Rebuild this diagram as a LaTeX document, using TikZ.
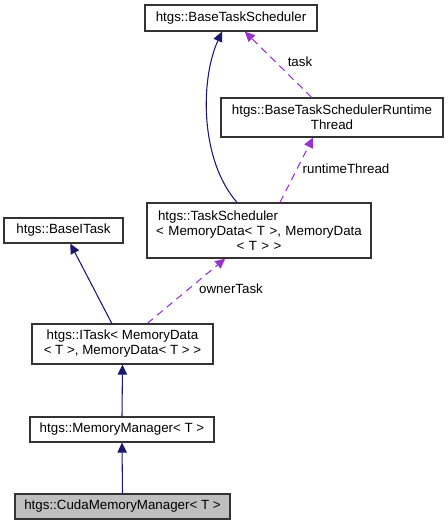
\documentclass[tikz,border=0pt]{standalone}
\usepackage{fontspec}
\setmainfont{Liberation Sans}
\usetikzlibrary{arrows.meta}
\newdimen\dpx \dpx=0.75pt
\definecolor{edgeblue}{HTML}{191970}
\definecolor{edgepurple}{HTML}{9A32CD}
\definecolor{boxline}{HTML}{333333}
\begin{document}
\begin{tikzpicture}[x=0.75pt,y=-0.75pt,
  box/.style={draw=boxline,line width=0.9pt,fill=white,inner sep=0pt,align=center,
    font=\fontsize{10}{11.25}\selectfont},
  inh/.style={draw=edgeblue,line width=0.8pt,-{Triangle[length=7.5pt,width=7pt]}},
  use/.style={draw=edgepurple,line width=0.8pt,dash pattern=on 5.5pt off 4pt,-{Triangle[length=7.5pt,width=7pt]}},
  lbl/.style={font=\fontsize{10}{11.25}\selectfont,inner sep=0pt}]
\useasboundingbox (0,0) rectangle (448,525);
\node[box,minimum width=172\dpx,minimum height=26\dpx] (bts) at (231,18) {htgs::BaseTaskScheduler};
\node[box,minimum width=222\dpx,minimum height=39\dpx] (rt) at (332,117.5) {htgs::BaseTaskSchedulerRuntime\\Thread};
\node[box,minimum width=224\dpx,minimum height=55\dpx,text width=218\dpx] (ts) at (259,230.5)
  {\makebox[\linewidth][l]{\hspace*{8\dpx}htgs::TaskScheduler}\\< MemoryData< T >, MemoryData\\< T > >};
\node[box,minimum width=119\dpx,minimum height=25\dpx] (bit) at (63.5,230.5) {htgs::BaseITask};
\node[box,minimum width=181\dpx,minimum height=40\dpx] (itask) at (122.5,344) {htgs::ITask< MemoryData\\< T >, MemoryData< T > >};
\node[box,minimum width=184\dpx,minimum height=25\dpx] (mm) at (122,429.5) {htgs::MemoryManager< T >};
\node[box,minimum width=215\dpx,minimum height=25\dpx,fill={rgb,255:red,191;green,191;blue,191}] (cmm) at (122.5,506.5) {htgs::CudaMemoryManager< T >};

\draw[inh] (cmm.north) -- (mm.south);
\draw[inh] (mm.north) -- (itask.south);
\draw[inh] (itask) -- (bit);
\draw[use] (itask) -- (ts);
\draw[use] ([xshift=21\dpx]ts.north) -- ([xshift=-19\dpx]rt.south);
\draw[use] (rt) -- (bts);
\draw[inh] ([xshift=-22\dpx]ts.north) .. controls (200,160) and (200,80) .. ([xshift=-9\dpx]bts.south);

\node[lbl] (ltask) at (300,62) {task};
\node[lbl] (lrt) at (346,169) {runtimeThread};
\node[lbl] (lown) at (231,289) {ownerTask};
\end{tikzpicture}
\end{document}
